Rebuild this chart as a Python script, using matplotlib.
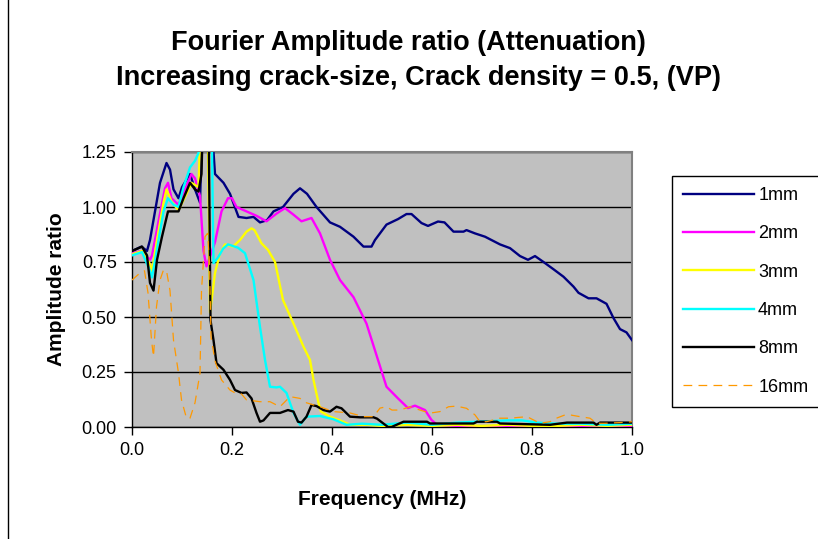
import matplotlib
matplotlib.use("Agg")
import matplotlib.pyplot as plt
from matplotlib.lines import Line2D

plt.rcParams['font.family'] = ['Liberation Sans', 'DejaVu Sans']

# data (frequency in MHz, amplitude ratio)
freq_1mm = [0.0, 0.019, 0.03, 0.036, 0.056, 0.069, 0.076, 0.083, 0.093, 0.10, 0.116, 0.126,
            0.136, 0.146, 0.160, 0.166, 0.183, 0.196, 0.213, 0.229, 0.243, 0.256, 0.27, 0.283,
            0.302, 0.323, 0.336, 0.35, 0.369, 0.396, 0.416, 0.443, 0.463, 0.479, 0.486, 0.509,
            0.532, 0.549, 0.559, 0.579, 0.592, 0.612, 0.625, 0.643, 0.663, 0.669, 0.686, 0.706,
            0.736, 0.756, 0.776, 0.792, 0.806, 0.823, 0.843, 0.863, 0.883, 0.893, 0.913, 0.929,
            0.949, 0.963, 0.976, 0.989, 1.0]
amp_1mm = [0.80, 0.82, 0.80, 0.85, 1.11, 1.20, 1.17, 1.08, 1.04, 1.09, 1.15, 1.08,
           1.02, 1.8, 1.35, 1.15, 1.11, 1.06, 0.955, 0.95, 0.955, 0.93, 0.94, 0.98,
           1.00, 1.06, 1.085, 1.06, 1.00, 0.93, 0.91, 0.865, 0.82, 0.82, 0.85, 0.92,
           0.945, 0.968, 0.968, 0.927, 0.914, 0.934, 0.93, 0.888, 0.888, 0.895, 0.88, 0.865,
           0.83, 0.813, 0.777, 0.76, 0.777, 0.75, 0.717, 0.683, 0.638, 0.61, 0.585, 0.585,
           0.56, 0.495, 0.445, 0.43, 0.395]

freq_2mm = [0.0, 0.019, 0.036, 0.04, 0.056, 0.066, 0.072, 0.079, 0.093, 0.106, 0.119, 0.126,
            0.136, 0.143, 0.149, 0.166, 0.179, 0.192, 0.2, 0.209, 0.229, 0.249, 0.269, 0.289,
            0.306, 0.323, 0.339, 0.359, 0.376, 0.396, 0.416, 0.443, 0.469, 0.492, 0.509, 0.532,
            0.552, 0.566, 0.586, 0.599, 0.61, 0.65, 0.7, 0.75, 0.8, 0.85, 0.9, 0.95, 1.0]
amp_2mm = [0.79, 0.80, 0.76, 0.78, 0.97, 1.085, 1.11, 1.04, 1.01, 1.08, 1.15, 1.13,
           1.05, 0.80, 0.73, 0.84, 0.98, 1.04, 1.04, 1.00, 0.98, 0.96, 0.935, 0.97,
           0.995, 0.965, 0.935, 0.95, 0.88, 0.76, 0.668, 0.59, 0.47, 0.305, 0.183, 0.13,
           0.086, 0.097, 0.077, 0.032, 0.01, 0.005, 0.0, 0.005, 0.0, 0.005, 0.0, 0.005, 0.0]

freq_3mm = [0.0, 0.02, 0.036, 0.04, 0.05, 0.063, 0.069, 0.079, 0.093, 0.109, 0.119, 0.133,
            0.142, 0.150, 0.156, 0.166, 0.176, 0.186, 0.202, 0.216, 0.229, 0.239, 0.245, 0.259,
            0.272, 0.286, 0.302, 0.323, 0.343, 0.356, 0.363, 0.373, 0.378, 0.396, 0.416, 0.436,
            0.47, 0.5, 0.55, 0.6, 0.65, 0.7, 0.75, 0.8, 0.85, 0.9, 0.95, 1.0]
amp_3mm = [0.785, 0.80, 0.74, 0.705, 0.85, 1.02, 1.08, 1.025, 0.985, 1.06, 1.11, 1.09,
           1.7, 1.7, 0.52, 0.70, 0.79, 0.83, 0.82, 0.85, 0.888, 0.903, 0.895, 0.835,
           0.805, 0.75, 0.577, 0.47, 0.365, 0.305, 0.214, 0.11, 0.07, 0.047, 0.03, 0.01,
           0.01, 0.005, 0.01, 0.005, 0.01, 0.005, 0.01, 0.005, 0.005, 0.01, 0.005, 0.01]

freq_4mm = [0.0, 0.02, 0.036, 0.04, 0.05, 0.063, 0.072, 0.083, 0.093, 0.103, 0.116, 0.126,
            0.133, 0.140, 0.158, 0.163, 0.172, 0.182, 0.192, 0.212, 0.226, 0.243, 0.256, 0.266,
            0.276, 0.289, 0.296, 0.309, 0.323, 0.336, 0.349, 0.376, 0.403, 0.429, 0.46, 0.5,
            0.55, 0.6, 0.65, 0.7, 0.75, 0.78, 0.81, 0.85, 0.9, 0.95, 1.0]
amp_4mm = [0.78, 0.795, 0.71, 0.68, 0.81, 0.98, 1.04, 1.01, 1.00, 1.09, 1.18, 1.21,
           1.245, 1.6, 1.6, 0.745, 0.77, 0.81, 0.83, 0.815, 0.79, 0.668, 0.455, 0.305,
           0.183, 0.18, 0.183, 0.155, 0.064, 0.01, 0.047, 0.05, 0.035, 0.01, 0.015, 0.01,
           0.02, 0.01, 0.02, 0.025, 0.03, 0.03, 0.02, 0.015, 0.015, 0.01, 0.015]

freq_8mm = [0.0, 0.02, 0.03, 0.036, 0.043, 0.05, 0.06, 0.072, 0.093, 0.103, 0.116, 0.126,
            0.133, 0.139, 0.145, 0.152, 0.157, 0.163, 0.169, 0.183, 0.196, 0.206, 0.219, 0.229,
            0.239, 0.249, 0.256, 0.263, 0.276, 0.296, 0.312, 0.323, 0.332, 0.339, 0.349, 0.359,
            0.369, 0.383, 0.396, 0.409, 0.419, 0.436, 0.456, 0.483, 0.49, 0.512, 0.519, 0.543,
            0.59, 0.596, 0.683, 0.69, 0.73, 0.736, 0.836, 0.87, 0.923, 0.929, 0.936, 1.0]
amp_8mm = [0.80, 0.82, 0.78, 0.655, 0.62, 0.76, 0.865, 0.98, 0.98, 1.04, 1.11, 1.08,
           1.07, 1.15, 1.7, 1.7, 0.485, 0.395, 0.29, 0.26, 0.214, 0.168, 0.155, 0.157,
           0.13, 0.064, 0.024, 0.03, 0.064, 0.064, 0.077, 0.07, 0.024, 0.02, 0.047, 0.10,
           0.095, 0.077, 0.07, 0.092, 0.085, 0.047, 0.044, 0.044, 0.038, 0.0, 0.0, 0.024,
           0.024, 0.016, 0.016, 0.024, 0.024, 0.016, 0.01, 0.02, 0.02, 0.01, 0.02, 0.02]

freq_16mm = [0.0, 0.016, 0.025, 0.032, 0.039, 0.043, 0.049, 0.056, 0.063, 0.069, 0.076, 0.083,
             0.093, 0.099, 0.109, 0.116, 0.126, 0.136, 0.139, 0.146, 0.151, 0.155, 0.158, 0.166,
             0.179, 0.196, 0.206, 0.219, 0.229, 0.256, 0.276, 0.296, 0.316, 0.336, 0.349, 0.376,
             0.403, 0.436, 0.463, 0.483, 0.496, 0.509, 0.52, 0.536, 0.556, 0.576, 0.596, 0.616,
             0.633, 0.649, 0.669, 0.686, 0.696, 0.709, 0.736, 0.756, 0.79, 0.816, 0.836, 0.849,
             0.866, 0.876, 0.896, 0.916, 0.929, 0.946, 0.976, 1.0]
amp_16mm = [0.668, 0.70, 0.71, 0.61, 0.395, 0.32, 0.547, 0.668, 0.714, 0.71, 0.62, 0.395,
            0.245, 0.123, 0.04, 0.04, 0.11, 0.245, 0.62, 0.865, 0.88, 0.75, 0.41, 0.30,
            0.214, 0.168, 0.155, 0.15, 0.123, 0.115, 0.115, 0.092, 0.138, 0.13, 0.11, 0.092,
            0.07, 0.064, 0.047, 0.047, 0.086, 0.092, 0.077, 0.077, 0.092, 0.077, 0.063, 0.07,
            0.092, 0.095, 0.085, 0.055, 0.024, 0.024, 0.04, 0.04, 0.047, 0.017, 0.024, 0.04,
            0.055, 0.055, 0.047, 0.04, 0.017, 0.017, 0.02, 0.024]

labels = ['1mm', '2mm', '3mm', '4mm', '8mm', '16mm']
colors = ['#000080', '#FF00FF', '#FFFF00', '#00FFFF', '#000000', '#FF9900']
x_ticks = [0.0, 0.2, 0.4, 0.6, 0.8, 1.0]
y_ticks = [0.0, 0.25, 0.5, 0.75, 1.0, 1.25]

series = [(freq_1mm, amp_1mm), (freq_2mm, amp_2mm), (freq_3mm, amp_3mm),
          (freq_4mm, amp_4mm), (freq_8mm, amp_8mm), (freq_16mm, amp_16mm)]

fig = plt.figure(figsize=(8.18, 5.39), dpi=100)
ax = fig.add_axes([132 / 818, 1 - 427 / 539, 500 / 818, 275 / 539])
ax.set_facecolor('#C0C0C0')

for (f, a), lab, col in zip(series, labels, colors):
    if lab == '16mm':
        ax.plot(f, a, color=col, lw=0.9, ls=(0, (7, 5)), label=lab, zorder=3)
    else:
        ax.plot(f, a, color=col, lw=1.7, label=lab, zorder=3)

ax.set_xlim(0, 1.0)
ax.set_ylim(0, 1.25)
ax.set_xticks(x_ticks)
ax.set_xticklabels(['%.1f' % v for v in x_ticks])
ax.set_yticks(y_ticks)
ax.set_yticklabels(['%.2f' % v for v in y_ticks])
ax.tick_params(direction='out', length=6, width=1, labelsize=13, pad=5)
ax.yaxis.grid(True, color='black', lw=1)
ax.set_axisbelow(True)
for s in ['top', 'right']:
    ax.spines[s].set_color('#808080')
    ax.spines[s].set_linewidth(1.5)
for s in ['left', 'bottom']:
    ax.spines[s].set_color('black')
    ax.spines[s].set_linewidth(1)

ax.set_xlabel('Frequency (MHz)', fontsize=15, fontweight='bold', labelpad=22)
ax.set_ylabel('Amplitude ratio', fontsize=15, fontweight='bold', labelpad=11)

fig.text(0.5 * (165 + 651) / 818, 1 - 43 / 539, 'Fourier Amplitude ratio (Attenuation)',
         ha='center', va='center', fontsize=19.5, fontweight='bold')
fig.text(0.5 * (95 + 742) / 818, 1 - 78 / 539, 'Increasing crack-size, Crack density = 0.5, (VP)',
         ha='center', va='center', fontsize=19.5, fontweight='bold')

leg = fig.legend(loc='upper left', bbox_to_anchor=(672 / 818, 1 - 176 / 539),
                 borderaxespad=0, frameon=True, fancybox=False, edgecolor='black',
                 framealpha=1, fontsize=13, handlelength=3.9, labelspacing=1.18,
                 borderpad=0.62, handletextpad=0.25)
leg.get_frame().set_linewidth(1)

# left edge line of the chart frame
fig.add_artist(Line2D([7.5 / 818, 7.5 / 818], [0, 1], color='black', lw=1))

fig.savefig('out.png', dpi=100)
